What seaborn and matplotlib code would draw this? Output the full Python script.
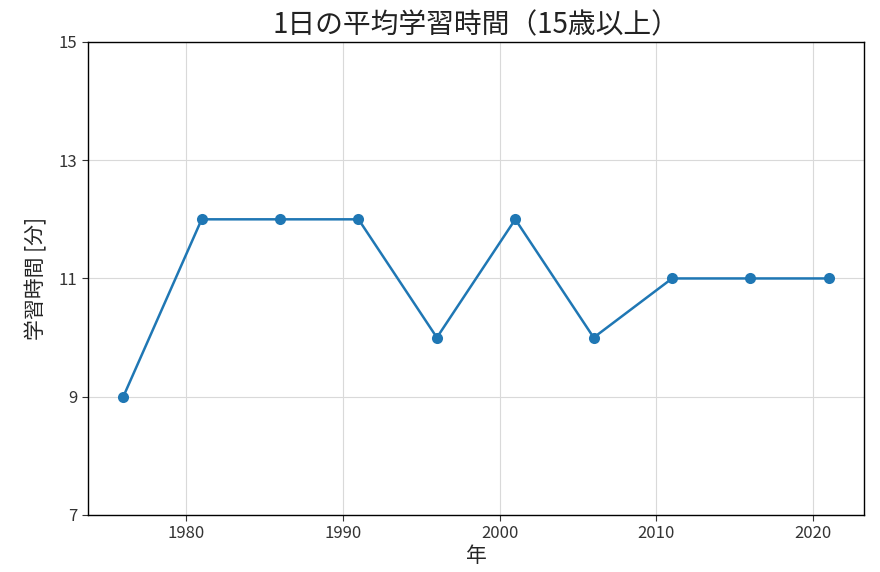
import numpy as np
import pandas as pd
import seaborn as sns
import matplotlib.pyplot as plt

# --- data ---
years = [1976, 1981, 1986, 1991, 1996, 2001, 2006, 2011, 2016, 2021]
study_minutes = [9, 12, 12, 12, 10, 12, 10, 11, 11, 11]

df = pd.DataFrame({"年": years, "学習時間": study_minutes})

# --- style ---
sns.set_style("ticks")
plt.rcParams["font.family"] = ["Noto Sans CJK JP", "DejaVu Sans"]

fig = plt.figure(figsize=(8.8, 5.72), dpi=100)
ax = fig.add_axes([0.1, 0.0997, 0.882, 0.827])

sns.lineplot(data=df, x="年", y="学習時間", marker="o", markersize=8,
             markeredgewidth=0, color="#1f77b4", linewidth=1.8, ax=ax)

ax.set_ylim(7, 15)
ax.set_yticks([7, 9, 11, 13, 15])
ax.set_xticks([1980, 1990, 2000, 2010, 2020])
ax.grid(True, color="#d9d9d9", linewidth=0.8)
ax.set_axisbelow(True)
for s in ax.spines.values():
    s.set_color("black")
    s.set_linewidth(1.0)
ax.tick_params(labelsize=12, colors="#333333", length=4)

ax.set_title("1日の平均学習時間（15歳以上）", fontsize=20, pad=6, color="#222222")
ax.set_xlabel("年", fontsize=15, labelpad=2)
ax.set_ylabel("学習時間 [分]", fontsize=15, labelpad=8)

fig.savefig("out.png", dpi=100)
